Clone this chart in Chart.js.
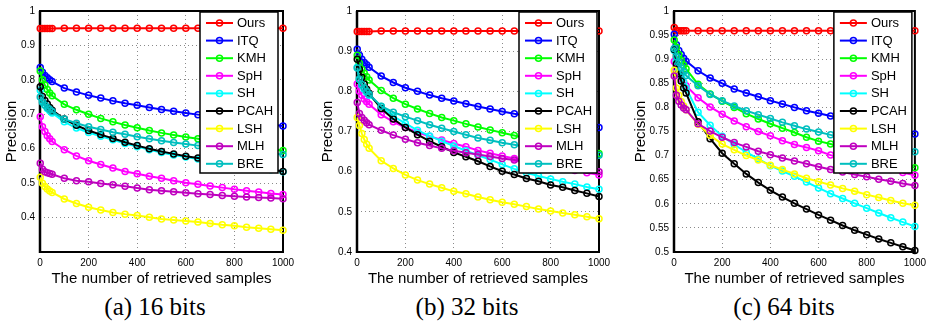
<!DOCTYPE html>
<html>
<head>
<meta charset="utf-8">
<script src="https://cdn.jsdelivr.net/npm/chart.js@4.4.0/dist/chart.umd.min.js"></script>
<style>
  body { margin: 0; background: #fff; }
  #wrap { position: relative; width: 931px; height: 326px; overflow: hidden; }
  canvas { position: absolute; top: 0; }
  .cap {
    position: absolute; top: 292px; width: 200px; text-align: center;
    font-family: 'Liberation Serif', 'Times New Roman', serif; font-size: 25px; line-height: 30px; color: #000;
  }
</style>
</head>
<body>
<div id="wrap">
  <canvas id="c16" width="300" height="290" style="left:0px"></canvas>
  <canvas id="c32" width="300" height="290" style="left:317px"></canvas>
  <canvas id="c64" width="301" height="290" style="left:630px"></canvas>
  <div class="cap" style="left:55px">(a) 16 bits</div>
  <div class="cap" style="left:367px">(b) 32 bits</div>
  <div class="cap" style="left:684px">(c) 64 bits</div>
</div>
<script>
// retrieved samples (x positions of the markers)
const samples = [1, 10, 20, 30, 40, 50, 100, 150, 200, 250, 300, 350, 400, 450, 500, 550, 600, 650, 700, 750, 800, 850, 900, 950, 1000];
const methods = ['Ours', 'ITQ', 'KMH', 'SpH', 'SH', 'PCAH', 'LSH', 'MLH', 'BRE'];

// (a) 16 bits
const ours16 = [0.949, 0.949, 0.949, 0.949, 0.949, 0.949, 0.95, 0.95, 0.95, 0.95, 0.95, 0.95, 0.95, 0.95, 0.95, 0.95, 0.95, 0.95, 0.95, 0.95, 0.95, 0.95, 0.95, 0.95, 0.95];
const itq16 = [0.836, 0.822, 0.813, 0.806, 0.800, 0.795, 0.776, 0.765, 0.755, 0.747, 0.739, 0.732, 0.726, 0.720, 0.714, 0.709, 0.704, 0.699, 0.694, 0.689, 0.684, 0.679, 0.675, 0.670, 0.666];
const kmh16 = [0.826, 0.800, 0.785, 0.772, 0.762, 0.754, 0.729, 0.713, 0.700, 0.688, 0.678, 0.669, 0.661, 0.653, 0.646, 0.640, 0.634, 0.629, 0.623, 0.618, 0.613, 0.608, 0.604, 0.599, 0.595];
const sph16 = [0.693, 0.664, 0.650, 0.638, 0.629, 0.621, 0.597, 0.579, 0.565, 0.554, 0.544, 0.534, 0.527, 0.520, 0.514, 0.507, 0.501, 0.497, 0.492, 0.487, 0.482, 0.478, 0.474, 0.470, 0.467];
const sh16 = [0.770, 0.738, 0.726, 0.717, 0.710, 0.704, 0.678, 0.660, 0.647, 0.636, 0.626, 0.615, 0.606, 0.597, 0.589, 0.582, 0.576, 0.570, 0.565, 0.560, 0.555, 0.550, 0.545, 0.539, 0.533];
const pcah16 = [0.780, 0.752, 0.740, 0.730, 0.720, 0.712, 0.686, 0.668, 0.653, 0.641, 0.630, 0.619, 0.609, 0.600, 0.592, 0.585, 0.578, 0.573, 0.567, 0.562, 0.556, 0.551, 0.545, 0.540, 0.534];
const lsh16 = [0.517, 0.500, 0.490, 0.483, 0.477, 0.473, 0.454, 0.441, 0.430, 0.422, 0.415, 0.410, 0.406, 0.401, 0.396, 0.393, 0.390, 0.387, 0.383, 0.379, 0.376, 0.372, 0.369, 0.366, 0.363];
const mlh16 = [0.558, 0.540, 0.533, 0.530, 0.528, 0.526, 0.514, 0.507, 0.504, 0.499, 0.495, 0.491, 0.486, 0.481, 0.478, 0.475, 0.472, 0.469, 0.467, 0.464, 0.462, 0.460, 0.458, 0.457, 0.455];
const bre16 = [0.750, 0.735, 0.727, 0.720, 0.714, 0.708, 0.686, 0.674, 0.664, 0.656, 0.648, 0.642, 0.635, 0.629, 0.623, 0.618, 0.614, 0.609, 0.605, 0.601, 0.597, 0.593, 0.590, 0.586, 0.583];

// (b) 32 bits
const ours32 = [0.949, 0.949, 0.949, 0.949, 0.949, 0.949, 0.95, 0.95, 0.95, 0.95, 0.95, 0.95, 0.95, 0.95, 0.95, 0.95, 0.95, 0.95, 0.95, 0.95, 0.95, 0.95, 0.95, 0.95, 0.95];
const itq32 = [0.905, 0.890, 0.880, 0.872, 0.866, 0.860, 0.838, 0.822, 0.809, 0.800, 0.791, 0.783, 0.776, 0.769, 0.762, 0.756, 0.750, 0.744, 0.739, 0.733, 0.728, 0.723, 0.719, 0.714, 0.710];
const kmh32 = [0.890, 0.870, 0.855, 0.845, 0.836, 0.828, 0.802, 0.783, 0.768, 0.756, 0.745, 0.735, 0.727, 0.719, 0.711, 0.704, 0.697, 0.690, 0.683, 0.677, 0.671, 0.664, 0.658, 0.651, 0.645];
const sph32 = [0.818, 0.800, 0.790, 0.781, 0.774, 0.768, 0.742, 0.724, 0.710, 0.698, 0.688, 0.679, 0.670, 0.662, 0.653, 0.646, 0.639, 0.633, 0.627, 0.621, 0.615, 0.609, 0.603, 0.597, 0.592];
const sh32 = [0.860, 0.830, 0.815, 0.805, 0.797, 0.790, 0.762, 0.738, 0.720, 0.703, 0.689, 0.676, 0.664, 0.652, 0.641, 0.630, 0.618, 0.607, 0.597, 0.589, 0.582, 0.575, 0.569, 0.562, 0.556];
const pcah32 = [0.880, 0.855, 0.835, 0.818, 0.805, 0.795, 0.757, 0.731, 0.710, 0.692, 0.676, 0.662, 0.648, 0.637, 0.626, 0.613, 0.601, 0.593, 0.583, 0.576, 0.567, 0.561, 0.553, 0.546, 0.538];
const lsh32 = [0.735, 0.715, 0.695, 0.680, 0.668, 0.658, 0.627, 0.608, 0.592, 0.579, 0.569, 0.560, 0.551, 0.545, 0.537, 0.530, 0.524, 0.519, 0.513, 0.507, 0.502, 0.497, 0.493, 0.488, 0.483];
const mlh32 = [0.772, 0.745, 0.735, 0.728, 0.722, 0.717, 0.703, 0.691, 0.681, 0.672, 0.665, 0.658, 0.652, 0.647, 0.643, 0.638, 0.633, 0.629, 0.624, 0.620, 0.616, 0.612, 0.608, 0.604, 0.600];
const bre32 = [0.858, 0.830, 0.817, 0.808, 0.800, 0.793, 0.763, 0.748, 0.737, 0.727, 0.717, 0.708, 0.700, 0.692, 0.684, 0.678, 0.672, 0.667, 0.662, 0.658, 0.654, 0.650, 0.647, 0.644, 0.641];

// (c) 64 bits
const ours64 = [0.966, 0.960, 0.959, 0.959, 0.959, 0.959, 0.959, 0.959, 0.959, 0.959, 0.959, 0.959, 0.959, 0.959, 0.959, 0.959, 0.959, 0.959, 0.959, 0.959, 0.959, 0.959, 0.959, 0.959, 0.959];
const itq64 = [0.952, 0.930, 0.918, 0.910, 0.902, 0.896, 0.876, 0.861, 0.850, 0.838, 0.830, 0.822, 0.814, 0.807, 0.800, 0.793, 0.788, 0.782, 0.777, 0.771, 0.766, 0.761, 0.756, 0.750, 0.745];
const kmh64 = [0.940, 0.925, 0.910, 0.898, 0.888, 0.880, 0.848, 0.828, 0.813, 0.800, 0.787, 0.776, 0.766, 0.757, 0.748, 0.738, 0.730, 0.724, 0.717, 0.710, 0.703, 0.696, 0.689, 0.682, 0.675];
const sph64 = [0.895, 0.880, 0.870, 0.860, 0.852, 0.845, 0.820, 0.801, 0.786, 0.772, 0.760, 0.750, 0.741, 0.731, 0.723, 0.717, 0.710, 0.701, 0.695, 0.689, 0.683, 0.677, 0.671, 0.665, 0.659];
const sh64 = [0.918, 0.895, 0.880, 0.865, 0.852, 0.840, 0.790, 0.763, 0.740, 0.723, 0.707, 0.693, 0.679, 0.668, 0.657, 0.645, 0.633, 0.621, 0.611, 0.601, 0.591, 0.581, 0.571, 0.562, 0.553];
const pcah64 = [0.920, 0.890, 0.870, 0.855, 0.840, 0.830, 0.770, 0.735, 0.705, 0.683, 0.662, 0.644, 0.628, 0.614, 0.601, 0.589, 0.577, 0.566, 0.555, 0.545, 0.536, 0.527, 0.519, 0.511, 0.503];
const lsh64 = [0.877, 0.840, 0.825, 0.812, 0.803, 0.795, 0.765, 0.742, 0.724, 0.712, 0.700, 0.691, 0.680, 0.671, 0.662, 0.653, 0.646, 0.639, 0.632, 0.626, 0.619, 0.613, 0.607, 0.601, 0.597];
const mlh64 = [0.865, 0.825, 0.813, 0.805, 0.799, 0.795, 0.766, 0.751, 0.738, 0.727, 0.718, 0.709, 0.702, 0.695, 0.689, 0.683, 0.677, 0.671, 0.666, 0.661, 0.656, 0.651, 0.647, 0.642, 0.638];
const bre64 = [0.922, 0.905, 0.893, 0.882, 0.874, 0.866, 0.845, 0.827, 0.814, 0.803, 0.793, 0.785, 0.777, 0.769, 0.762, 0.755, 0.749, 0.743, 0.738, 0.733, 0.728, 0.723, 0.718, 0.713, 0.708];

const colors = ['#ff0000', '#0000ff', '#00ff00', '#ff00ff', '#00ffff', '#000000', '#ffff00', '#bf00bf', '#00bfbf'];
const sansFont = "'Liberation Sans', Arial, sans-serif";

Chart.defaults.font.family = sansFont;
Chart.defaults.color = '#000';

// axes box, drawn under the lines like matlab does
const framePlugin = {
    id: 'frame',
    beforeDatasetsDraw(chart) {
        const { ctx, chartArea: a } = chart;
        ctx.save();
        ctx.strokeStyle = '#000';
        ctx.lineWidth = 2;
        ctx.strokeRect(a.left, a.top, a.right - a.left, a.bottom - a.top);
        ctx.lineWidth = 2.5;
        ctx.beginPath();
        ctx.moveTo(a.left, a.top);
        ctx.lineTo(a.left, a.bottom + 1);
        ctx.stroke();
        ctx.restore();
    }
};

// boxed legend in the top right corner of the plot
const legendBox = {
    id: 'legendBox',
    afterDatasetsDraw(chart, args, opts) {
        const { ctx, chartArea: a } = chart;
        const w = 78, h = 161;
        const x0 = a.right - opts.inset - w, y0 = a.top + 1;
        ctx.save();
        ctx.fillStyle = '#fff';
        ctx.fillRect(x0, y0, w, h);
        ctx.strokeStyle = '#000';
        ctx.lineWidth = 1.5;
        ctx.strokeRect(x0, y0, w, h);
        ctx.font = '13px ' + sansFont;
        ctx.textBaseline = 'middle';
        chart.data.datasets.forEach((ds, i) => {
            const y = y0 + 11 + i * 17.6;
            ctx.strokeStyle = ds.borderColor;
            ctx.lineWidth = 2;
            ctx.beginPath();
            ctx.moveTo(x0 + 6, y);
            ctx.lineTo(x0 + 33, y);
            ctx.stroke();
            ctx.lineWidth = 1.5;
            ctx.beginPath();
            ctx.arc(x0 + 19.5, y, 3, 0, Math.PI * 2);
            ctx.stroke();
            ctx.fillStyle = '#000';
            ctx.fillText(ds.label, x0 + 37, y + 0.5);
        });
        ctx.restore();
    }
};

function drawPanel(id, series, yMin, yMax, yStep, hideMin, cfg) {
    const datasets = series.map((vals, i) => ({
        label: methods[i],
        data: samples.map((s, j) => ({ x: s, y: vals[j] })),
        borderColor: colors[i],
        borderWidth: 2,
        pointRadius: 3,
        pointBorderWidth: 1.5,
        pointBorderColor: colors[i],
        pointBackgroundColor: 'rgba(0,0,0,0)',
        tension: 0,
        clip: false,
        order: series.length - i
    }));

    new Chart(document.getElementById(id), {
        type: 'line',
        data: { datasets },
        options: {
            responsive: false,
            animation: false,
            layout: { padding: { top: 10, right: cfg.padRight, bottom: 0, left: 0 } },
            scales: {
                x: {
                    type: 'linear',
                    min: 0,
                    max: 1000,
                    ticks: {
                        stepSize: 200,
                        padding: 5,
                        maxRotation: 0,
                        font: { size: 10 },
                        callback: v => String(v)
                    },
                    grid: { color: '#8a8a8a', lineWidth: 1, drawTicks: false },
                    border: { display: false, dash: [1, 3] },
                    title: {
                        display: true,
                        text: 'The number of retrieved samples',
                        font: { size: 15 },
                        padding: { top: 0, bottom: 2 }
                    },
                    afterFit(s) { s.height = 38; }
                },
                y: {
                    type: 'linear',
                    min: yMin,
                    max: yMax,
                    ticks: {
                        stepSize: yStep,
                        padding: 5,
                        font: { size: 10 },
                        callback: function (v) {
                            if (hideMin && Math.abs(v - yMin) < 1e-6) return '';
                            return String(parseFloat(v.toFixed(2)));
                        }
                    },
                    grid: { color: '#8a8a8a', lineWidth: 1, drawTicks: false },
                    border: { display: false, dash: [1, 3] },
                    title: {
                        display: true,
                        text: 'Precision',
                        font: { size: 15 },
                        padding: { top: cfg.titlePad, bottom: 0 }
                    },
                    afterFit(s) { s.width = cfg.axisWidth; }
                }
            },
            plugins: {
                legend: { display: false },
                tooltip: { enabled: false },
                legendBox: { inset: cfg.inset }
            }
        },
        plugins: [framePlugin, legendBox]
    });
}

drawPanel('c16', [ours16, itq16, kmh16, sph16, sh16, pcah16, lsh16, mlh16, bre16], 0.3, 1, 0.1, true,
    { padRight: 17, axisWidth: 40, titlePad: 3, inset: 5 });
drawPanel('c32', [ours32, itq32, kmh32, sph32, sh32, pcah32, lsh32, mlh32, bre32], 0.4, 1, 0.1, false,
    { padRight: 18, axisWidth: 40, titlePad: 2, inset: 2 });
drawPanel('c64', [ours64, itq64, kmh64, sph64, sh64, pcah64, lsh64, mlh64, bre64], 0.5, 1, 0.05, false,
    { padRight: 14, axisWidth: 44, titlePad: 2, inset: 3 });
</script>
</body>
</html>
